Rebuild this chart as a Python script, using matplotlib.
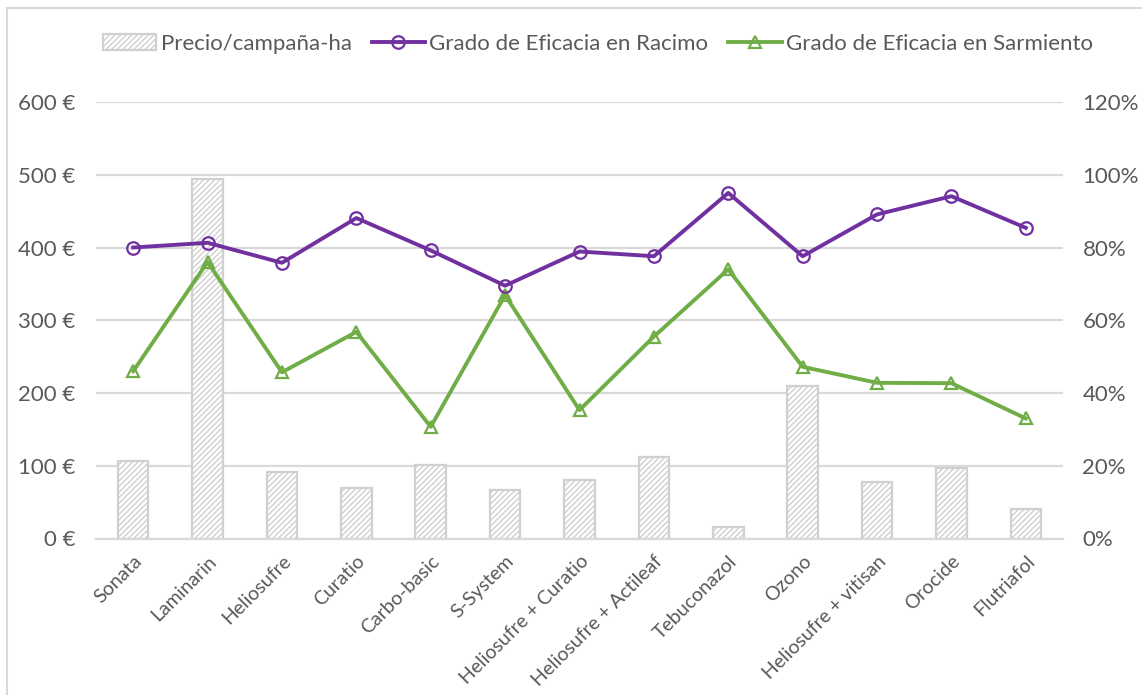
import matplotlib
matplotlib.use("Agg")
import matplotlib.pyplot as plt
from matplotlib.patches import Rectangle
from matplotlib.ticker import FuncFormatter
import numpy as np

categories = ["Sonata", "Laminarin", "Heliosufre", "Curatio", "Carbo-basic", "S-System",
              "Heliosufre + Curatio", "Heliosufre + Actileaf", "Tebuconazol", "Ozono",
              "Heliosufre + vitisan", "Orocide", "Flutriafol"]
precio = [107, 494, 92, 70, 101, 67, 81, 112, 16, 209, 78, 97, 41]
racimo = [80.0, 81.3, 75.8, 88.1, 79.2, 69.5, 78.9, 77.6, 95.0, 77.6, 89.1, 94.1, 85.4]
sarmiento = [46.0, 76.0, 45.7, 56.8, 30.7, 66.9, 35.3, 55.5, 74.0, 47.2, 42.8, 42.7, 33.0]
left_ticks = [0, 100, 200, 300, 400, 500, 600]
right_ticks = [0, 20, 40, 60, 80, 100, 120]

plt.rcParams['font.family'] = ['Lato', 'DejaVu Sans']
plt.rcParams['hatch.color'] = '#cfcfcf'
plt.rcParams['hatch.linewidth'] = 1.0

W, H = 1142, 695
fig = plt.figure(figsize=(W / 100, H / 100), dpi=100)
ax = fig.add_axes([96 / W, 1 - 538.5 / H, (1063 - 96) / W, (538.5 - 102) / H])
ax2 = ax.twinx()

txt_col = '#595959'
grid_col = '#d9d9d9'

x = np.arange(len(categories))
bars = ax.bar(x, precio, width=0.41, facecolor='white', edgecolor='#d0d0d0', linewidth=1.6,
              hatch='//////', zorder=2, label='Precio/campaña-ha')
ax.set_ylim(0, 600)
ax.set_xlim(-0.5, len(categories) - 0.5)
ax.set_yticks(left_ticks)
ax.yaxis.set_major_formatter(FuncFormatter(lambda v, p: f"{int(v)} €"))
ax.grid(axis='y', color=grid_col, linewidth=1.6, zorder=0)
ax.set_axisbelow(True)

l1, = ax2.plot(x, racimo, color='#7030a0', linewidth=2.8, marker='o', markersize=9,
               markerfacecolor='none', markeredgecolor='#7030a0', markeredgewidth=1.6,
               label='Grado de Eficacia en Racimo', zorder=4)
l2, = ax2.plot(x, sarmiento, color='#70ad47', linewidth=2.8, marker='^', markersize=9,
               markerfacecolor='none', markeredgecolor='#70ad47', markeredgewidth=1.6,
               label='Grado de Eficacia en Sarmiento', zorder=3)
ax2.set_ylim(0, 120)
ax2.set_yticks(right_ticks)
ax2.yaxis.set_major_formatter(FuncFormatter(lambda v, p: f"{int(v)}%"))

for a in (ax, ax2):
    for s in a.spines.values():
        s.set_visible(False)
    a.tick_params(length=0, labelsize=16, labelcolor=txt_col)
ax.spines['bottom'].set_visible(True)
ax.spines['bottom'].set_color(grid_col)
ax.spines['bottom'].set_linewidth(1.6)

ax.tick_params(axis='y', pad=15)
ax2.tick_params(axis='y', pad=14)
ax.set_xticks(x)
ax.set_xticklabels(categories, rotation=45, ha='right', rotation_mode='anchor', fontsize=14)
ax.tick_params(axis='x', pad=10)

handles = [bars, l1, l2]
labels = ['Precio/campaña-ha', 'Grado de Eficacia en Racimo', 'Grado de Eficacia en Sarmiento']
leg = fig.legend(handles, labels, loc='center',
                 bbox_to_anchor=(598 / W, 1 - 44 / H), ncol=3, frameon=False,
                 fontsize=16, handlelength=2.4, handleheight=0.7, columnspacing=0.9,
                 handletextpad=0.2)
for t in leg.get_texts():
    t.set_color(txt_col)

fig.patches.append(Rectangle((7 / W, -0.1), 1.2, 1 - 8 / H + 0.1, transform=fig.transFigure,
                             fill=False, edgecolor=grid_col, linewidth=1.5, zorder=0))

fig.savefig("out.png", dpi=100)
